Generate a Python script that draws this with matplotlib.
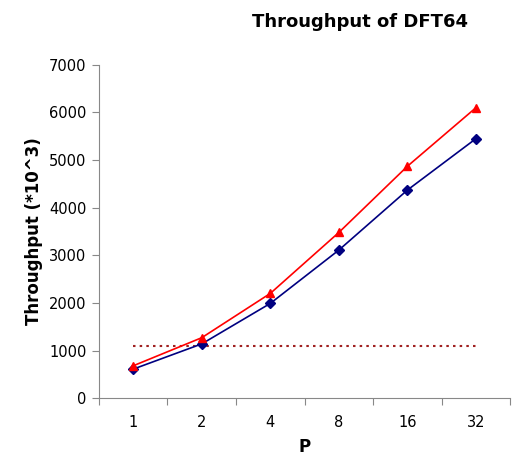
import matplotlib
matplotlib.use("Agg")
import matplotlib.pyplot as plt
import numpy as np

categories = ["1", "2", "4", "8", "16", "32"]
series_red = [680, 1270, 2200, 3480, 4870, 6100]
series_blue = [610, 1140, 1990, 3110, 4370, 5450]
series_ref = [1100, 1100, 1100, 1100, 1100, 1100]

fig = plt.figure(figsize=(5.18, 4.63), dpi=100)
ax = fig.add_axes([0.191, 0.140, 0.794, 0.720])
x = np.arange(len(categories))

ax.plot(x, series_ref, color="#A02020", linestyle=(0, (1.2, 2.0)), linewidth=1.5)
ax.plot(x, series_blue, color="#000080", marker="D", markersize=5, linewidth=1.2)
ax.plot(x, series_red, color="#FF0000", marker="^", markersize=6, linewidth=1.2)

ax.set_xlim(-0.5, len(categories) - 0.5)
ax.set_ylim(0, 7000)
ax.set_yticks(range(0, 7001, 1000))
ax.set_xticks(np.arange(-0.5, len(categories), 1.0))
ax.set_xticklabels([])
ax.set_xticks(x, minor=True)
ax.set_xticklabels(categories, minor=True)
ax.tick_params(axis="x", which="minor", length=0, pad=12, labelsize=10.5)
ax.tick_params(axis="x", which="major", length=5, color="#888888", direction="out")
ax.tick_params(axis="y", length=5, color="#888888", direction="out", labelsize=10.5, pad=4)

for s in ["top", "right"]:
    ax.spines[s].set_visible(False)
for s in ["left", "bottom"]:
    ax.spines[s].set_color("#888888")

ax.set_xlabel("P", fontsize=12, fontweight="bold", labelpad=6)
ax.set_ylabel("Throughput (*10^3)", fontsize=12, fontweight="bold", labelpad=4)
fig.text(0.695, 0.952, "Throughput of DFT64", ha="center", va="center", fontsize=13, fontweight="bold")

fig.savefig("out.png", dpi=100)
